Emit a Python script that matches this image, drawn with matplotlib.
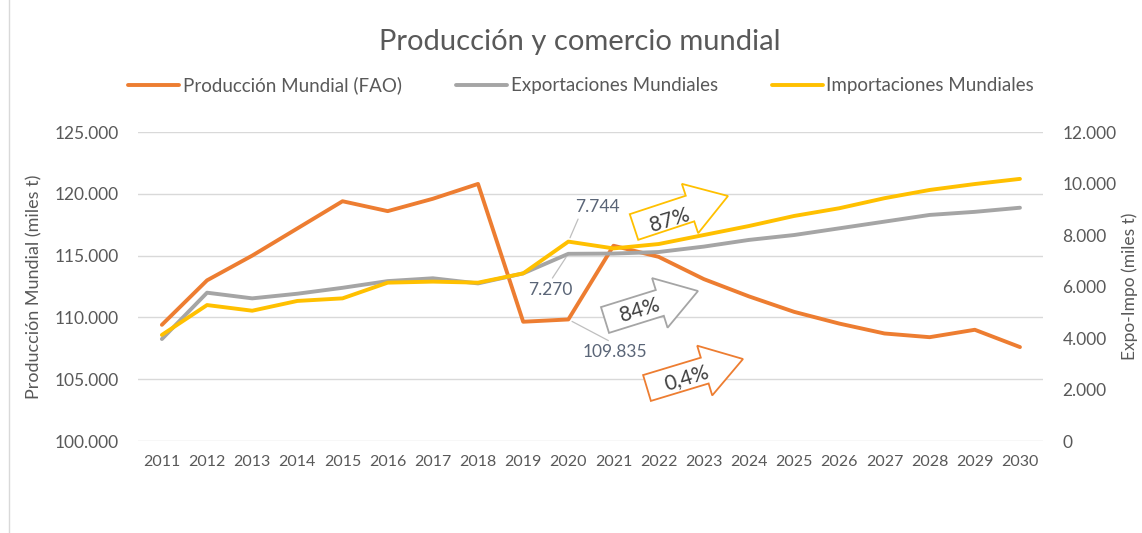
import matplotlib.pyplot as plt
from matplotlib.patches import FancyArrow
from matplotlib.lines import Line2D
from matplotlib.ticker import FuncFormatter

years = list(range(2011, 2031))
produccion = [109400, 113000, 115000, 117200, 119400, 118600, 119600, 120800, 109650, 109835,
              115800, 114900, 113100, 111700, 110450, 109500, 108700, 108400, 109000, 107600]
exportaciones = [3960, 5760, 5540, 5720, 5950, 6210, 6320, 6120, 6510, 7270,
                 7280, 7340, 7550, 7810, 8000, 8260, 8520, 8780, 8900, 9060]
importaciones = [4120, 5280, 5060, 5440, 5540, 6150, 6190, 6150, 6510, 7744,
                 7480, 7650, 8000, 8350, 8740, 9040, 9430, 9750, 9980, 10180]

c_prod = '#ED7D31'
c_exp = '#A5A5A5'
c_imp = '#FFC000'
txt = '#595959'

plt.rcParams['font.family'] = ['Lato', 'DejaVu Sans']

def miles(v, pos):
    return '{:,.0f}'.format(v).replace(',', '.')

fig = plt.figure(figsize=(11.42, 5.33), dpi=100)
ax = fig.add_axes([0.1208, 0.1726, 0.7925, 0.5797])
ax2 = ax.twinx()

line_kw = dict(lw=2.8, solid_capstyle='round', solid_joinstyle='round')
l1, = ax.plot(years, produccion, color=c_prod, label='Producción Mundial (FAO)', **line_kw)
l2, = ax2.plot(years, exportaciones, color=c_exp, label='Exportaciones Mundiales', **line_kw)
l3, = ax2.plot(years, importaciones, color=c_imp, label='Importaciones Mundiales', **line_kw)

ax.set_xlim(2010.47, 2030.51)
ax.set_ylim(100000, 125000)
ax2.set_ylim(0, 12000)
ax.set_yticks(range(100000, 125001, 5000))
ax2.set_yticks(range(0, 12001, 2000))
ax.set_xticks(years)
ax.set_xticklabels([str(y) for y in years])
ax.yaxis.set_major_formatter(FuncFormatter(miles))
ax2.yaxis.set_major_formatter(FuncFormatter(miles))

ax.grid(axis='y', color='#d9d9d9', lw=1)
ax.set_axisbelow(True)
for a in (ax, ax2):
    for s in a.spines.values():
        s.set_visible(False)
    a.tick_params(length=0, labelsize=12.5, labelcolor=txt, pad=14)
ax.tick_params(axis='x', labelsize=11.5, pad=10)

ax.set_ylabel('Producción Mundial (miles t)', fontsize=13, color=txt)
ax2.set_ylabel('Expo-Impo (miles t)', fontsize=12.5, color=txt)
ax.yaxis.set_label_coords(-0.106, 0.5)
ax2.yaxis.set_label_coords(1.087, 0.5)

fig.text(0.508, 0.922, 'Producción y comercio mundial', ha='center', va='center',
         fontsize=21, color=txt)
fig.legend(handles=[l1, l2, l3], loc='center', bbox_to_anchor=(0.509, 0.84), ncol=3,
           frameon=False, fontsize=13.5, labelcolor=txt, handlelength=2.7,
           handletextpad=0.2, columnspacing=2.9)

# data labels with leader lines
lab = dict(fontsize=12.5, color='#5a6577', ha='center', va='center')
lead = dict(arrowstyle='-', color='#bfbfbf', lw=0.9, shrinkA=1, shrinkB=3)
ax2.annotate('7.744', xy=(2020, importaciones[9]), xytext=(2020.65, 9087),
             arrowprops=dict(relpos=(0.1, 0), **lead), **lab)
ax2.annotate('7.270', xy=(2020, exportaciones[9]), xytext=(2019.59, 5864),
             arrowprops=dict(relpos=(0.5, 1), **lead), **lab)
ax.annotate('109.835', xy=(2020, produccion[9]), xytext=(2021.03, 107200),
            arrowprops=dict(relpos=(0.5, 1), **lead), **lab)

# growth block arrows (figure inches)
growth = [('87%', c_imp, (6.34, 3.06), (0.94, 0.31), (6.70, 3.13)),
          ('84%', c_exp, (6.05, 2.13), (0.93, 0.29), (6.40, 2.23)),
          ('0,4%', c_prod, (6.47, 1.45), (0.96, 0.29), (6.87, 1.55))]
for label, col, (x0, y0), (dx, dy), (tx, ty) in growth:
    arr = FancyArrow(x0, y0, dx, dy, width=0.27, head_width=0.52, head_length=0.40,
                     length_includes_head=True, transform=fig.dpi_scale_trans,
                     facecolor='white', edgecolor=col, lw=1.3, zorder=5)
    fig.add_artist(arr)
    fig.text(tx / 11.42, ty / 5.33, label, rotation=17, ha='center', va='center',
             fontsize=15, color='#404040', zorder=6, rotation_mode='anchor')

fig.add_artist(Line2D([0.008, 0.008], [0, 1], color='#d9d9d9', lw=1))

fig.savefig('out.png', dpi=100)
